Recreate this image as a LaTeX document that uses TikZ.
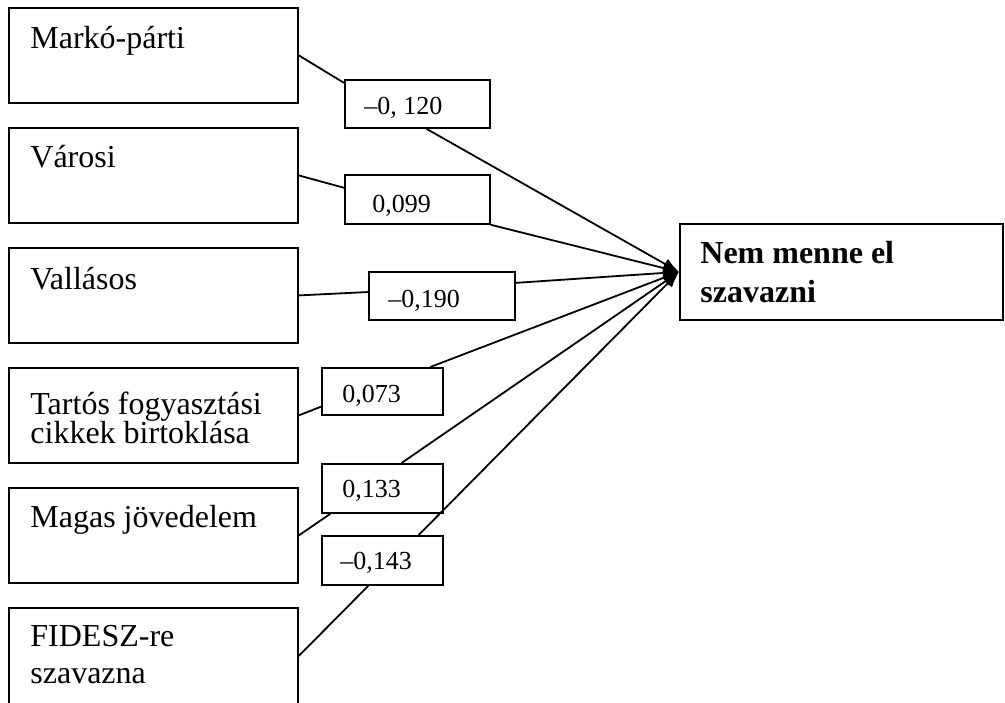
\documentclass[tikz,border=0pt]{standalone}
\usepackage{fontspec}
\setmainfont{Liberation Serif}
\usetikzlibrary{arrows.meta}

\begin{document}
\begin{tikzpicture}[x=0.5pt,y=-0.5pt,
  varbox/.style={draw,line width=0.9pt,anchor=north west,inner sep=0pt,
    minimum width=144.5pt,minimum height=47.5pt},
  coefbox/.style={draw,line width=0.9pt,anchor=north west,inner sep=0pt,
    minimum width=60.5pt,minimum height=24pt},
  vartext/.style={anchor=base west,inner sep=0pt,font=\fontsize{16}{19}\selectfont},
  coeftext/.style={anchor=base west,inner sep=0pt,font=\fontsize{13}{15}\selectfont},
  link/.style={line width=0.9pt},
  effect/.style={line width=0.9pt,-{Latex[length=8pt,width=6pt]}}]
  \useasboundingbox (0,0) rectangle (1005,702);
  % explanatory variables
  \foreach \n/\y in {marko/7, varosi/127, vallasos/247, tartos/367, magas/487}
    \node[varbox] (\n) at (8,\y) {};
  \node[varbox,minimum height=48pt] (fidesz) at (8,607) {};
  \node[vartext] (markot) at (30,48) {Markó-párti};
  \node[vartext] (varosit) at (30,167) {Városi};
  \node[vartext] (vallasost) at (30,289) {Vallásos};
  \node[vartext] (tartost) at (30,414) {Tartós fogyasztási};
  \node[vartext] (tartost2) at (30,443) {cikkek birtoklása};
  \node[vartext] (magast) at (30,527) {Magas jövedelem};
  \node[vartext] (fideszt) at (30,646) {FIDESZ-re};
  \node[vartext] (fideszt2) at (30,683) {szavazna};
  % dependent variable
  \node[varbox,minimum width=161.5pt,minimum height=48pt] (target) at (679,223) {};
  \node[vartext,font=\fontsize{16}{19}\selectfont\bfseries] (targett) at (700,263) {Nem menne el};
  \node[vartext,font=\fontsize{16}{19}\selectfont\bfseries] (targett2) at (700,302) {szavazni};
  % coefficients
  \node[coefbox,minimum width=72.5pt] (c1) at (344,79) {};
  \node[coefbox,minimum width=72.5pt,minimum height=24.5pt] (c2) at (344,174) {};
  \node[coefbox,minimum width=73pt] (c3) at (368,271) {};
  \node[coefbox,minimum height=23.5pt] (c4) at (321,367) {};
  \node[coefbox,minimum height=24.5pt] (c5) at (321,463) {};
  \node[coefbox,minimum height=24.5pt] (c6) at (321,535) {};
  \node[coeftext] (c1t) at (364,114) {–0, 120};
  \node[coeftext] (c2t) at (372,212) {0,099};
  \node[coeftext] (c3t) at (388,307) {–0,190};
  \node[coeftext] (c4t) at (342,402) {0,073};
  \node[coeftext] (c5t) at (342,497) {0,133};
  \node[coeftext] (c6t) at (340,569) {–0,143};
  % paths
  \draw[link] (marko.east) -- (c1.164);
  \draw[link] (varosi.east) -- (c2.171);
  \draw[link] (vallasos.east) -- (c3.177);
  \draw[link] (tartos.east) -- (c4.194);
  \draw[link] (magas.east) -- (c5.206);
  \draw[link] (fidesz.east) -- (c6.241);
  \draw[effect] (c1.-70) -- (target.west);
  \draw[effect] (c2.south east) -- (target.west);
  \draw[effect] (c3.10) -- (target.west);
  \draw[effect] (c4.27) -- (target.west);
  \draw[effect] (c5.53) -- (target.west);
  \draw[effect] (c6.35) -- (target.west);
\end{tikzpicture}
\end{document}
